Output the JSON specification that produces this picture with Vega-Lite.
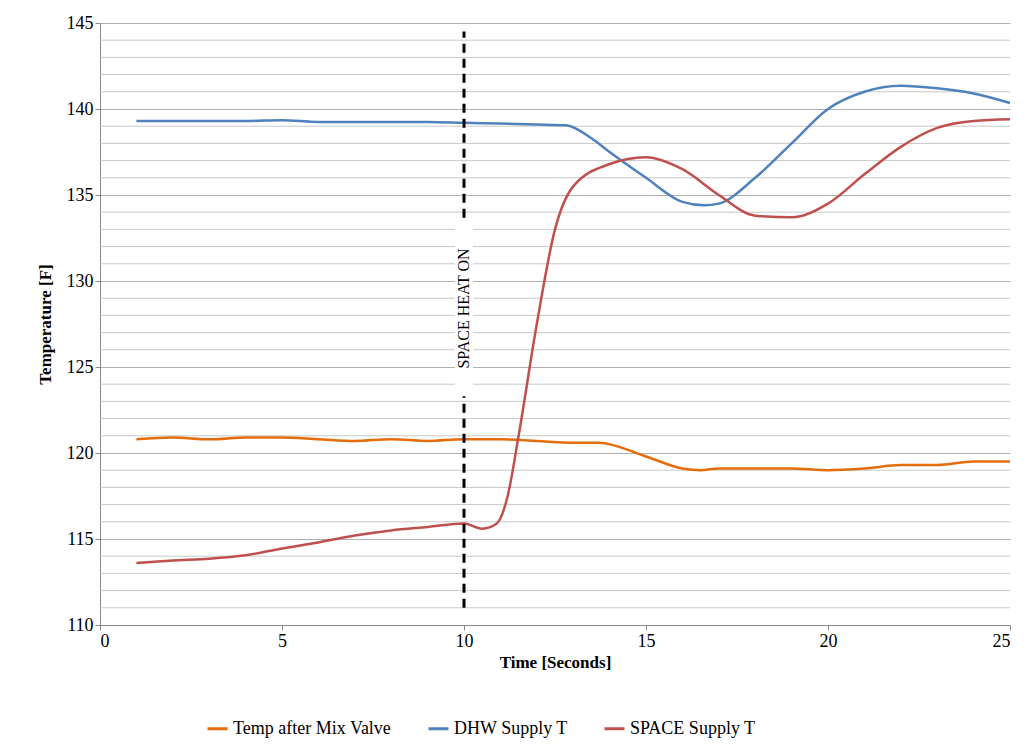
{
"$schema":"https://vega.github.io/schema/vega-lite/v6.json",
"width":910,"height":602,
"padding":{"left":36,"top":14,"right":19,"bottom":8},
"autosize":{"type":"pad"},
"config":{"font":"Liberation Serif","view":{"stroke":null},"axis":{"labelFont":"Liberation Serif","titleFont":"Liberation Serif"},"legend":{"labelFont":"Liberation Serif"},"text":{"font":"Liberation Serif"}},
"layer":[
{"data":{"values":[{"y":111},{"y":112},{"y":113},{"y":114},{"y":116},{"y":117},{"y":118},{"y":119},{"y":121},{"y":122},{"y":123},{"y":124},{"y":126},{"y":127},{"y":128},{"y":129},{"y":131},{"y":132},{"y":133},{"y":134},{"y":136},{"y":137},{"y":138},{"y":139},{"y":141},{"y":142},{"y":143},{"y":144}]},
"mark":{"type":"rule","color":"#c8c8c8","strokeWidth":1},
"encoding":{"y":{"field":"y","type":"quantitative","scale":{"domain":[110,145],"nice":false}}}},
{"data":{"values":[
{"t":1,"v":120.8,"s":"Temp after Mix Valve"},{"t":2,"v":120.9,"s":"Temp after Mix Valve"},{"t":3,"v":120.8,"s":"Temp after Mix Valve"},{"t":4,"v":120.9,"s":"Temp after Mix Valve"},{"t":5,"v":120.9,"s":"Temp after Mix Valve"},{"t":6,"v":120.8,"s":"Temp after Mix Valve"},{"t":7,"v":120.7,"s":"Temp after Mix Valve"},{"t":8,"v":120.8,"s":"Temp after Mix Valve"},{"t":9,"v":120.7,"s":"Temp after Mix Valve"},{"t":10,"v":120.8,"s":"Temp after Mix Valve"},{"t":11,"v":120.8,"s":"Temp after Mix Valve"},{"t":12,"v":120.7,"s":"Temp after Mix Valve"},{"t":13,"v":120.6,"s":"Temp after Mix Valve"},{"t":13.7,"v":120.6,"s":"Temp after Mix Valve"},{"t":15,"v":119.8,"s":"Temp after Mix Valve"},{"t":16,"v":119.1,"s":"Temp after Mix Valve"},{"t":16.5,"v":119.0,"s":"Temp after Mix Valve"},{"t":17,"v":119.1,"s":"Temp after Mix Valve"},{"t":18,"v":119.1,"s":"Temp after Mix Valve"},{"t":19,"v":119.1,"s":"Temp after Mix Valve"},{"t":20,"v":119.0,"s":"Temp after Mix Valve"},{"t":21,"v":119.1,"s":"Temp after Mix Valve"},{"t":22,"v":119.3,"s":"Temp after Mix Valve"},{"t":23,"v":119.3,"s":"Temp after Mix Valve"},{"t":24,"v":119.5,"s":"Temp after Mix Valve"},{"t":25,"v":119.5,"s":"Temp after Mix Valve"},
{"t":1,"v":139.3,"s":"DHW Supply T"},{"t":2,"v":139.3,"s":"DHW Supply T"},{"t":3,"v":139.3,"s":"DHW Supply T"},{"t":4,"v":139.3,"s":"DHW Supply T"},{"t":5,"v":139.35,"s":"DHW Supply T"},{"t":6,"v":139.25,"s":"DHW Supply T"},{"t":7,"v":139.25,"s":"DHW Supply T"},{"t":8,"v":139.25,"s":"DHW Supply T"},{"t":9,"v":139.25,"s":"DHW Supply T"},{"t":10,"v":139.2,"s":"DHW Supply T"},{"t":11,"v":139.15,"s":"DHW Supply T"},{"t":12,"v":139.1,"s":"DHW Supply T"},{"t":12.8,"v":139.05,"s":"DHW Supply T"},{"t":13.5,"v":138.3,"s":"DHW Supply T"},{"t":14,"v":137.5,"s":"DHW Supply T"},{"t":15,"v":136,"s":"DHW Supply T"},{"t":16,"v":134.6,"s":"DHW Supply T"},{"t":16.6,"v":134.4,"s":"DHW Supply T"},{"t":17,"v":134.5,"s":"DHW Supply T"},{"t":18,"v":136,"s":"DHW Supply T"},{"t":19,"v":138,"s":"DHW Supply T"},{"t":20,"v":140,"s":"DHW Supply T"},{"t":21,"v":141,"s":"DHW Supply T"},{"t":22,"v":141.35,"s":"DHW Supply T"},{"t":23,"v":141.2,"s":"DHW Supply T"},{"t":24,"v":140.9,"s":"DHW Supply T"},{"t":25,"v":140.35,"s":"DHW Supply T"},
{"t":1,"v":113.6,"s":"SPACE Supply T"},{"t":2,"v":113.75,"s":"SPACE Supply T"},{"t":3,"v":113.85,"s":"SPACE Supply T"},{"t":4,"v":114.05,"s":"SPACE Supply T"},{"t":5,"v":114.45,"s":"SPACE Supply T"},{"t":6,"v":114.8,"s":"SPACE Supply T"},{"t":7,"v":115.2,"s":"SPACE Supply T"},{"t":8,"v":115.5,"s":"SPACE Supply T"},{"t":9,"v":115.7,"s":"SPACE Supply T"},{"t":10,"v":115.9,"s":"SPACE Supply T"},{"t":10.5,"v":115.6,"s":"SPACE Supply T"},{"t":10.9,"v":115.9,"s":"SPACE Supply T"},{"t":11.2,"v":117.5,"s":"SPACE Supply T"},{"t":11.5,"v":121,"s":"SPACE Supply T"},{"t":12,"v":127.5,"s":"SPACE Supply T"},{"t":12.5,"v":133,"s":"SPACE Supply T"},{"t":13,"v":135.5,"s":"SPACE Supply T"},{"t":14,"v":136.8,"s":"SPACE Supply T"},{"t":15,"v":137.2,"s":"SPACE Supply T"},{"t":16,"v":136.5,"s":"SPACE Supply T"},{"t":17,"v":135.0,"s":"SPACE Supply T"},{"t":18,"v":133.8,"s":"SPACE Supply T"},{"t":19,"v":133.7,"s":"SPACE Supply T"},{"t":20,"v":134.5,"s":"SPACE Supply T"},{"t":21,"v":136.2,"s":"SPACE Supply T"},{"t":22,"v":137.8,"s":"SPACE Supply T"},{"t":23,"v":138.9,"s":"SPACE Supply T"},{"t":24,"v":139.3,"s":"SPACE Supply T"},{"t":25,"v":139.4,"s":"SPACE Supply T"}
]},
"mark":{"type":"line","interpolate":"monotone","strokeWidth":2.5},
"encoding":{
"x":{"field":"t","type":"quantitative","scale":{"domain":[0,25],"nice":false},"axis":{"title":"Time [Seconds]","titleFontSize":17,"labelFontSize":18,"labelColor":"black","titleColor":"black","values":[0,5,10,15,20,25],"grid":false,"domainColor":"#888","tickColor":"#888","titlePadding":4}},
"y":{"field":"v","type":"quantitative","scale":{"domain":[110,145],"nice":false},"axis":{"title":"Temperature [F]","titleFontSize":17,"labelFontSize":18,"labelColor":"black","titleColor":"black","values":[110,115,120,125,130,135,140,145],"gridColor":"#b0b0b0","domainColor":"#888","tickColor":"#888","titlePadding":12}},
"color":{"field":"s","type":"nominal","sort":["Temp after Mix Valve","DHW Supply T","SPACE Supply T"],"scale":{"range":["#e46c0a","#4f81bd","#c0504d"]},"legend":{"orient":"none","legendX":106,"legendY":694,"direction":"horizontal","title":null,"labelFontSize":18,"labelColor":"black","symbolType":"stroke","symbolStrokeWidth":3,"symbolSize":400,"columnPadding":30}}
}},
{"data":{"values":[{"x":10,"y1":111,"y2":144.5}]},
"mark":{"type":"rule","color":"black","strokeWidth":3,"strokeDash":[9,6]},
"encoding":{"x":{"field":"x","type":"quantitative"},"y":{"field":"y1","type":"quantitative"},"y2":{"field":"y2"}}},
{"data":{"values":[{"x1":9.75,"x2":10.25,"y1":123.3,"y2":133.6}]},
"mark":{"type":"rect","color":"white"},
"encoding":{"x":{"field":"x1","type":"quantitative"},"x2":{"field":"x2"},"y":{"field":"y1","type":"quantitative"},"y2":{"field":"y2"}}},
{"data":{"values":[{"x":10,"y":128.4,"label":"SPACE HEAT ON"}]},
"mark":{"type":"text","angle":270,"fontSize":16,"color":"black","align":"center","baseline":"middle","font":"Liberation Serif"},
"encoding":{"x":{"field":"x","type":"quantitative"},"y":{"field":"y","type":"quantitative"},"text":{"field":"label"}}}
]
}
